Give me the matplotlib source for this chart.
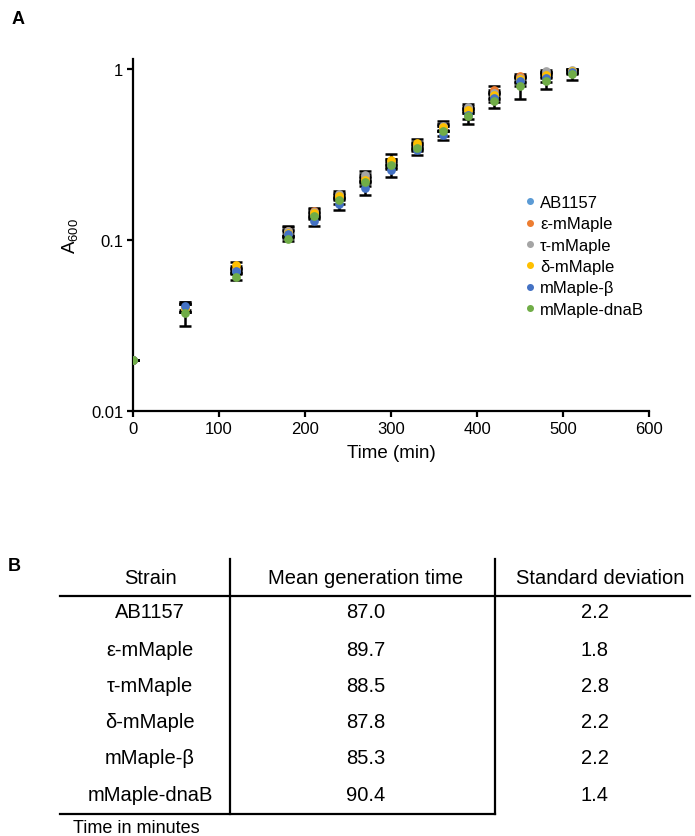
import numpy as np
import matplotlib
matplotlib.use("Agg")
import matplotlib.pyplot as plt

plt.rcParams['font.family'] = ['Liberation Sans', 'DejaVu Sans']
plt.rcParams['mathtext.default'] = 'regular'

# growth curves (A600 vs time)
times = [0, 60, 120, 180, 210, 240, 270, 300, 330, 360, 390, 420, 450, 480, 510]
strains = ['AB1157', 'ε-mMaple', 'τ-mMaple', 'δ-mMaple', 'mMaple-β', 'mMaple-dnaB']
colors = ['#5B9BD5', '#ED7D31', '#A5A5A5', '#FFC000', '#4472C4', '#70AD47']

ab1157 = [0.02, 0.040, 0.066, 0.110, 0.140, 0.178, 0.228, 0.275, 0.350, 0.450, 0.570, 0.700, 0.860, 0.930, 0.965]
eps = [0.02, 0.040, 0.068, 0.113, 0.148, 0.182, 0.232, 0.285, 0.360, 0.460, 0.590, 0.750, 0.905, 0.935, 0.975]
tau = [0.02, 0.040, 0.067, 0.113, 0.145, 0.186, 0.239, 0.285, 0.355, 0.465, 0.600, 0.720, 0.880, 0.970, 0.980]
delta = [0.02, 0.040, 0.0715, 0.110, 0.143, 0.180, 0.225, 0.293, 0.368, 0.455, 0.575, 0.700, 0.870, 0.920, 0.970]
beta = [0.02, 0.0412, 0.066, 0.108, 0.129, 0.162, 0.201, 0.256, 0.335, 0.410, 0.540, 0.680, 0.850, 0.890, 0.960]
dnab = [0.02, 0.0375, 0.0608, 0.1013, 0.138, 0.171, 0.218, 0.274, 0.345, 0.433, 0.530, 0.650, 0.790, 0.850, 0.930]

ab1157_err = [0, 0.002, 0.002, 0.004, 0.005, 0.006, 0.008, 0.010, 0.012, 0.015, 0.020, 0.030, 0.030, 0.030, 0.020]
eps_err = [0, 0.002, 0.002, 0.008, 0.006, 0.006, 0.010, 0.012, 0.015, 0.020, 0.020, 0.040, 0.025, 0.030, 0.020]
tau_err = [0, 0.002, 0.002, 0.006, 0.006, 0.007, 0.014, 0.012, 0.015, 0.030, 0.020, 0.030, 0.030, 0.010, 0.020]
delta_err = [0, 0.002, 0.003, 0.005, 0.005, 0.006, 0.010, 0.025, 0.021, 0.020, 0.020, 0.030, 0.030, 0.030, 0.020]
beta_err = [0, 0.002, 0.002, 0.004, 0.008, 0.013, 0.018, 0.022, 0.021, 0.026, 0.030, 0.040, 0.050, 0.050, 0.030]
dnab_err = [0, 0.006, 0.0025, 0.002, 0.006, 0.008, 0.012, 0.015, 0.015, 0.030, 0.050, 0.060, 0.125, 0.090, 0.070]

series = [ab1157, eps, tau, delta, beta, dnab]
errors = [ab1157_err, eps_err, tau_err, delta_err, beta_err, dnab_err]

# generation time table
gen_mean = ['87.0', '89.7', '88.5', '87.8', '85.3', '90.4']
gen_sd = ['2.2', '1.8', '2.8', '2.2', '2.2', '1.4']
headers = ['Strain', 'Mean generation time', 'Standard deviation']

fig = plt.figure(figsize=(6.95, 8.37), dpi=100)
ax = fig.add_axes([133/695, 1-412/837, 516/695, 352/837])

for vals, err in zip(series, errors):
    ax.errorbar(times, vals, yerr=err, fmt='none', ecolor='black',
                elinewidth=1.8, capsize=4, capthick=1.8, zorder=2)
for name, vals, c in zip(strains, series, colors):
    ax.plot(times, vals, 'o', color=c, ms=6.3, mew=0, label=name, zorder=3)

ax.set_yscale('log')
ax.set_ylim(0.01, 1.144)
ax.set_xlim(0, 600)
ax.set_yticks([0.01, 0.1, 1])
ax.set_yticklabels(['0.01', '0.1', '1'])
ax.yaxis.set_minor_locator(matplotlib.ticker.NullLocator())
ax.set_xticks([0, 100, 200, 300, 400, 500, 600])
for s in ['top', 'right']:
    ax.spines[s].set_visible(False)
for s in ['left', 'bottom']:
    ax.spines[s].set_linewidth(1.6)
ax.tick_params(axis='both', labelsize=12, width=1.6, length=4, pad=3)
ax.set_xlabel('Time (min)', fontsize=13.5, labelpad=6)
ax.set_ylabel('A$_{600}$', fontsize=13.5, labelpad=8)

ax.legend(loc='upper left', bbox_to_anchor=(525/695, 1-196/837),
          bbox_transform=fig.transFigure, frameon=False, fontsize=12,
          handlelength=0.6, handletextpad=0.3, labelspacing=0.38,
          borderpad=0, borderaxespad=0, markerscale=0.8)

fig.text(12/695, 1-20/837, 'A', fontsize=13, fontweight='bold', va='center')
fig.text(8/695, 1-567/837, 'B', fontsize=13, fontweight='bold', va='center')

# table in pixel coordinates
tx = fig.add_axes([0, 0, 1, 1])
tx.set_xlim(0, 695)
tx.set_ylim(837, 0)
tx.axis('off')
tx.patch.set_alpha(0)

col_x = [150, 366, 600]
val_x = [150, 366, 595]
row_y = [613, 650, 687, 722, 759, 796]
for x, h in zip(col_x, headers):
    tx.text(x, 578, h, ha='center', va='center', fontsize=14.5)
for y, s, m, d in zip(row_y, strains, gen_mean, gen_sd):
    tx.text(val_x[0], y, s, ha='center', va='center', fontsize=14.5)
    tx.text(val_x[1], y, m, ha='center', va='center', fontsize=14.5)
    tx.text(val_x[2], y, d, ha='center', va='center', fontsize=14.5)
tx.plot([60, 690], [597, 597], color='black', lw=1.6)
tx.plot([60, 495], [815, 815], color='black', lw=1.6)
tx.plot([230, 230], [560, 815], color='black', lw=1.6)
tx.plot([495, 495], [560, 815], color='black', lw=1.6)
tx.text(73, 829, 'Time in minutes', ha='left', va='center', fontsize=13)

fig.savefig('out.png', dpi=100)
